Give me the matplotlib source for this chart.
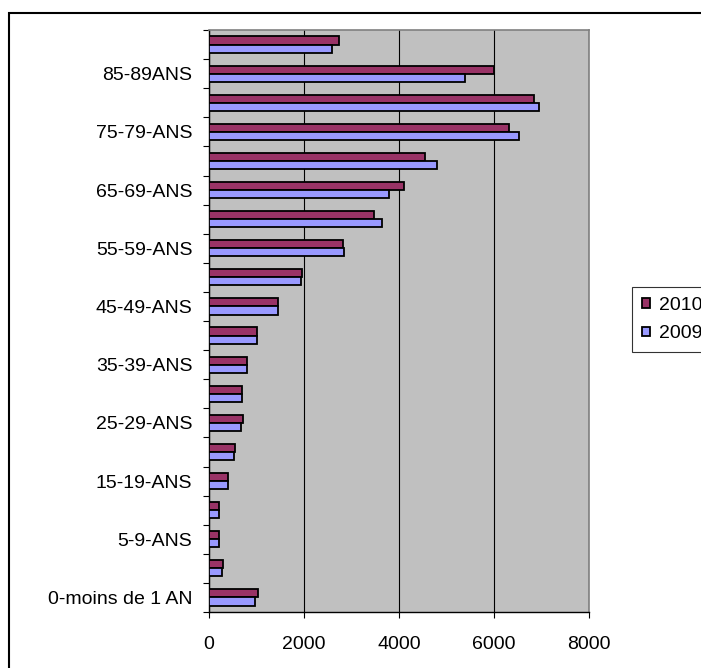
import numpy as np
import matplotlib.pyplot as plt
from matplotlib.patches import Rectangle

# age groups, bottom to top
ages = ["0-moins de 1 AN", "1-4-ANS", "5-9-ANS", "10-14-ANS", "15-19-ANS",
        "20-24-ANS", "25-29-ANS", "30-34-ANS", "35-39-ANS", "40-44-ANS",
        "45-49-ANS", "50-54-ANS", "55-59-ANS", "60-64-ANS", "65-69-ANS",
        "70-74-ANS", "75-79-ANS", "80-84-ANS", "85-89ANS", "90-ANS et +"]
val_2010 = [1040, 300, 200, 200, 410, 540, 710, 700, 810, 1000,
            1450, 1965, 2815, 3480, 4110, 4555, 6320, 6850, 5990, 2745]
val_2009 = [975, 265, 200, 200, 410, 535, 675, 695, 800, 1000,
            1450, 1935, 2840, 3650, 3780, 4805, 6525, 6955, 5390, 2585]
xticks = [0, 2000, 4000, 6000, 8000]

plt.rcParams['font.family'] = ['Liberation Sans', 'DejaVu Sans']

fig = plt.figure(figsize=(7.01, 6.68), dpi=100)
ax = fig.add_axes([209 / 701, 1 - 612 / 668, 380 / 701, 582 / 668])

y = np.arange(len(ages))
h = 0.28
ax.barh(y + h / 2, val_2010, height=h, color="#993366", edgecolor="black",
        linewidth=1.3, label="2010", zorder=3)
ax.barh(y - h / 2, val_2009, height=h, color="#9999FF", edgecolor="black",
        linewidth=1.3, label="2009", zorder=3)

ax.set_facecolor("#C0C0C0")
ax.set_xlim(0, 8000)
ax.set_ylim(-0.5, len(ages) - 0.5)
ax.set_xticks(xticks)
ax.set_xticklabels([str(t) for t in xticks], fontsize=14)
ax.xaxis.grid(True, color="black", linewidth=0.8, zorder=1)

# ticks between categories, labels on every other category
ax.set_yticks(np.arange(-0.5, len(ages), 1.0))
ax.set_yticklabels([])
ax.set_yticks(y[::2], minor=True)
ax.set_yticklabels(ages[::2], minor=True, fontsize=14)
ax.tick_params(axis="y", which="major", direction="out", length=4.5,
               width=0.8, color="black")
ax.tick_params(axis="y", which="minor", length=0, pad=12)
ax.tick_params(axis="x", direction="out", length=4.5, width=0.8, pad=13)

for side in ["top", "right"]:
    ax.spines[side].set_color("#808080")
    ax.spines[side].set_linewidth(1.2)
for side in ["left", "bottom"]:
    ax.spines[side].set_color("black")
    ax.spines[side].set_linewidth(1.0)

leg = fig.legend(loc="upper left", bbox_to_anchor=(632 / 701, 1 - 287 / 668),
                 fontsize=14, frameon=True, fancybox=False, borderpad=0.5,
                 handlelength=0.4, handleheight=0.4, handletextpad=0.5,
                 labelspacing=0.6, borderaxespad=0)
leg.get_frame().set_edgecolor("black")
leg.get_frame().set_linewidth(0.8)

# chart border
fig.patches.append(Rectangle((9 / 701, -0.05), 1.0, 1 - 13 / 668 + 0.05,
                             transform=fig.transFigure, fill=False,
                             edgecolor="black", linewidth=1.5))

fig.savefig("out.png", dpi=100)
